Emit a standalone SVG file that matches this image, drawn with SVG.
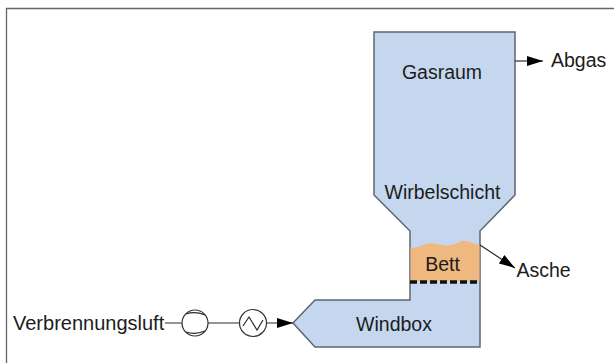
<svg xmlns="http://www.w3.org/2000/svg" width="614" height="363" viewBox="0 0 614 363">
<style>
text{font-family:"Liberation Sans",Arial,sans-serif;font-size:19.500px;fill:#1c1c1c}
.v{fill:#c5d7ee;stroke:#5f6670;stroke-width:1.5;stroke-linejoin:miter}
.l{fill:none;stroke:#2a2a2a;stroke-width:1.2}
.s{fill:#fff;stroke:#333;stroke-width:1.2}
</style>
<defs><marker id="a" markerWidth="16" markerHeight="10" refX="16" refY="5" orient="auto" markerUnits="userSpaceOnUse"><path d="M0 0L16 5L0 10Z" fill="#000"/></marker></defs>
<rect width="614" height="363" fill="#fff"/>
<path d="M6.500 363V8.500H614" fill="none" stroke="#666" stroke-width="1.300"/>
<g id="reactor"><path class="v" d="M374 32H515V195L480 231V347H315L293 323L315 300H410V231L374 195Z"/></g>
<g id="bed"><path d="M410.500 247C415 249 420 246 426 244C433 242 437 244 442 245C449 247 455 244 462 241C468 240 472 244 479.500 245V281H410.500Z" fill="#eeb87f"/>
<text x="442.500" y="271" text-anchor="middle">Bett</text></g>
<g id="labels">
<text x="442" y="79" text-anchor="middle">Gasraum</text>
<text x="442.500" y="199" text-anchor="middle">Wirbelschicht</text>
<text x="394" y="331" text-anchor="middle">Windbox</text>
<text x="551" y="67">Abgas</text>
<text x="516.500" y="277">Asche</text>
<text x="13" y="330" style="font-size:20px">Verbrennungsluft</text>
</g>
<g id="connectors">
<path class="l" d="M165 323H293" marker-end="url(#a)"/>
<path class="l" d="M515 61H543" marker-end="url(#a)"/>
<path class="l" d="M480 245L515 268" marker-end="url(#a)"/>
<path d="M410 282H480" fill="none" stroke="#111" stroke-width="3.500" stroke-dasharray="7 3"/>
</g>
<g id="compressor"><circle class="s" cx="195" cy="323" r="13"/><path class="l" d="M186 314Q195 311 205 315M186 332Q195 335 205 331"/></g>
<g id="heater"><circle class="s" cx="253" cy="323" r="13.500"/><path class="l" d="M243 326L249 317L257 330L263 320"/></g>
</svg>
